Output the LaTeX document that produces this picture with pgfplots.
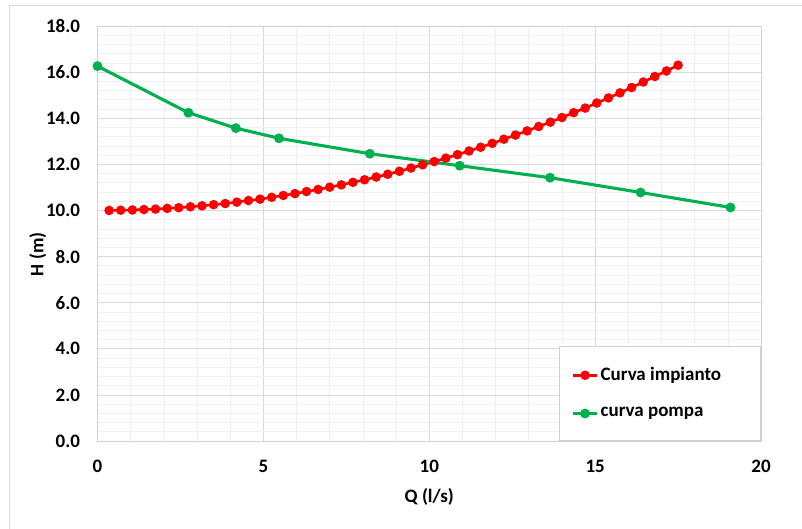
\documentclass[border=0pt]{standalone}
\usepackage{fontspec}
\setmainfont{Carlito}
\usepackage{pgfplots}
\pgfplotsset{compat=1.18}
\definecolor{cred}{HTML}{FF0000}
\definecolor{cgreen}{HTML}{00B050}
\definecolor{majgrid}{HTML}{D9D9D9}
\definecolor{mingrid}{HTML}{F0F0F0}
\definecolor{frame}{HTML}{D0D0D0}
\begin{document}
\fontsize{19}{22.8}\selectfont
\begin{tikzpicture}
\useasboundingbox (-97.5pt,-87pt) rectangle (704.5pt,441pt);
\draw[majgrid, line width=0.8pt] (-88.5pt,-90pt) -- (-88.5pt,435.7pt) -- (710pt,435.7pt);
\begin{axis}[
  at={(0,0)}, anchor=south west,
  scale only axis, width=663.5pt, height=415pt,
  xmin=0, xmax=20, ymin=0, ymax=18,
  xtick={0,5,10,15,20}, ytick={0,2,...,18},
  minor x tick num=4, minor y tick num=4,
  grid=both,
  major grid style={majgrid, line width=0.7pt},
  minor grid style={mingrid, line width=0.6pt},
  axis line style={frame, line width=0.8pt},
  major tick length=0pt, minor tick length=0pt,
  /pgf/number format/assume math mode=true,
  tick label style={font=\fontsize{19}{22.8}\selectfont\bfseries},
  yticklabel style={/pgf/number format/fixed, /pgf/number format/fixed zerofill, /pgf/number format/precision=1, xshift=-11pt},
  xticklabel style={yshift=-13pt},
  xlabel={Q (l/s)}, ylabel={H (m)},
  label style={font=\fontsize{19}{22.8}\selectfont\bfseries},
  xlabel style={yshift=-2pt},
  ylabel style={at={(axis description cs:-0.09,0.45)}, anchor=center},
  legend style={at={(1,0)}, anchor=south east, draw=frame, fill=white,
    line width=0.8pt, font=\fontsize{19}{22.8}\selectfont\bfseries,
    inner xsep=12pt, inner ysep=19pt, row sep=20pt},
  legend cell align=left,
  legend image code/.code={\draw[#1, mark repeat=2, mark phase=2] plot coordinates {(0pt,0pt) (12pt,0pt) (24pt,0pt)};},
]
\addplot[cred, line width=2.6pt, mark=*, mark size=3.4pt, mark options={solid}] coordinates {
(0.35,10.00) (0.70,10.01) (1.05,10.02) (1.40,10.04) (1.75,10.06) (2.10,10.09) (2.45,10.12) (2.80,10.16) (3.15,10.20) (3.50,10.25)
(3.85,10.30) (4.20,10.36) (4.55,10.43) (4.90,10.49) (5.25,10.57) (5.60,10.65) (5.95,10.73) (6.30,10.82) (6.65,10.91) (7.00,11.01)
(7.35,11.11) (7.70,11.22) (8.05,11.33) (8.40,11.45) (8.75,11.57) (9.10,11.70) (9.45,11.84) (9.80,11.98) (10.15,12.12) (10.50,12.27)
(10.85,12.42) (11.20,12.58) (11.55,12.74) (11.90,12.91) (12.25,13.09) (12.60,13.27) (12.95,13.45) (13.30,13.64) (13.65,13.83) (14.00,14.03)
(14.35,14.24) (14.70,14.44) (15.05,14.66) (15.40,14.88) (15.75,15.10) (16.10,15.33) (16.45,15.57) (16.80,15.81) (17.15,16.05) (17.50,16.30)
};
\addlegendentry{\makebox[146pt][l]{Curva impianto}}
\addplot[cgreen, line width=3.1pt, mark=*, mark size=3.3pt, mark options={solid}] coordinates {
(0,16.26) (2.74,14.24) (4.17,13.57) (5.47,13.13) (8.21,12.46) (10.92,11.94) (13.64,11.42) (16.37,10.78) (19.08,10.13)
};
\addlegendentry{\makebox[146pt][l]{curva pompa}}
\end{axis}
\end{tikzpicture}
\end{document}
